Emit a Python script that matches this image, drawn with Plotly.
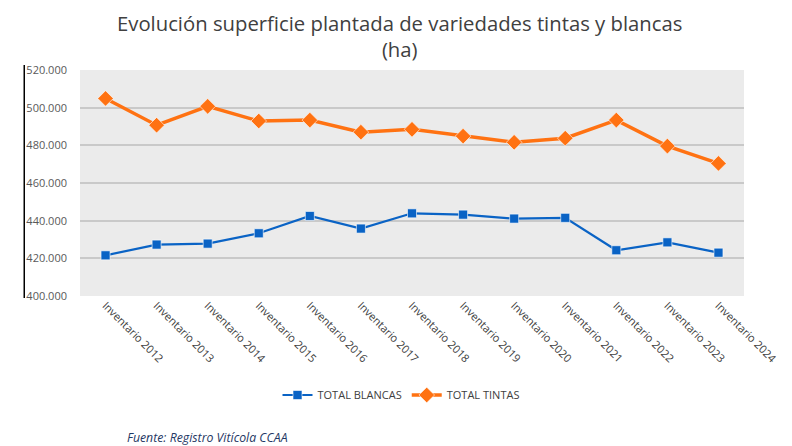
import plotly.graph_objects as go

categories = ["Inventario 2012", "Inventario 2013", "Inventario 2014", "Inventario 2015",
              "Inventario 2016", "Inventario 2017", "Inventario 2018", "Inventario 2019",
              "Inventario 2020", "Inventario 2021", "Inventario 2022", "Inventario 2023",
              "Inventario 2024"]
total_blancas = [421600, 427300, 427800, 433300, 442500, 435800, 443900, 443200,
                 441100, 441500, 424300, 428500, 423000]
total_tintas = [504900, 490700, 500700, 492900, 493400, 487000, 488500, 484900,
                481600, 483800, 493400, 479600, 470400]
y_ticks = [400000, 420000, 440000, 460000, 480000, 500000, 520000]

# page has an 8px body margin; work in window pixel coordinates
OFF = 8
W, H = 792 - OFF, 446 - OFF
PL, PR, PT, PB = 80, 747, 70, 296          # plot area in window pixels
L, T = PL - OFF, PT - OFF
R, B = W - (PR - OFF), H - (PB - OFF)
pw, ph = PR - PL, PB - PT

def px_x(x):
    return (x - PL) / pw

def px_y(y):
    return (PB - y) / ph

def cx(x):
    return (x - OFF) / W

def cy(y):
    return 1 - (y - OFF) / H

fig = go.Figure()
fig.add_trace(go.Scatter(
    x=categories, y=total_blancas, name="TOTAL BLANCAS", mode="lines+markers",
    line=dict(color="#0A63C5", width=2.2),
    marker=dict(symbol="square", size=9, color="#0A63C5", line=dict(color="white", width=0.6)),
))
fig.add_trace(go.Scatter(
    x=categories, y=total_tintas, name="TOTAL TINTAS", mode="lines+markers",
    line=dict(color="#FF7212", width=3.5),
    marker=dict(symbol="diamond", size=12, color="#FF7212", line=dict(color="white", width=0.6)),
))

fig.update_layout(
    width=W, height=H,
    margin=dict(l=L, r=R, t=T, b=B),
    paper_bgcolor="white",
    plot_bgcolor="#EBEBEB",
    separators=",.",
    font=dict(family="Open Sans, Liberation Sans, sans-serif", color="#404040"),
    showlegend=True,
    legend=dict(
        orientation="h", xref="container", yref="container",
        x=cx(401), xanchor="center", y=cy(395), yanchor="middle",
        font=dict(size=11, color="#404040"),
        bgcolor="rgba(0,0,0,0)",
    ),
    xaxis=dict(
        type="category", range=[-0.5, len(categories) - 0.5], tickangle=45,
        showgrid=False, showline=False, zeroline=False,
        tickfont=dict(size=11, color="#404040"), ticks="",
    ),
    yaxis=dict(
        range=[400000, 520000], tickvals=y_ticks, tickformat=",.0f",
        showgrid=True, gridcolor="#C9C9C9", gridwidth=1.5, zeroline=False,
        showline=False, tickfont=dict(size=11, color="#595959"),
        ticklabelstandoff=12,
    ),
)

fig.add_annotation(
    text="Evolución superficie plantada de variedades tintas y blancas<br>(ha)",
    xref="paper", yref="paper", x=px_x(401), y=px_y(36),
    xanchor="center", yanchor="middle", showarrow=False,
    font=dict(size=20.3, color="#404040"),
)

fig.add_shape(type="line", xref="paper", yref="paper",
              x0=px_x(24), x1=px_x(24), y0=px_y(298), y1=px_y(65),
              line=dict(color="black", width=1.5))

fig.add_annotation(
    text="<i>Fuente: Registro Vitícola CCAA</i>", xref="paper", yref="paper",
    x=px_x(125), y=px_y(437), xanchor="left", yanchor="middle", showarrow=False,
    font=dict(size=12.3, color="#1F3864"),
)

fig.write_html("out.html")
